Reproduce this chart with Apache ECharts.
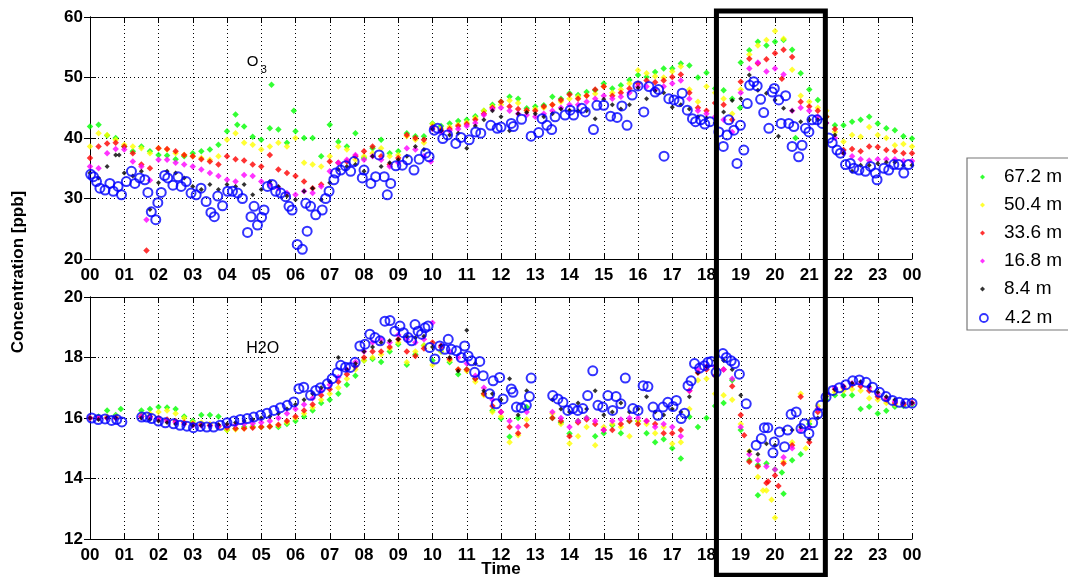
<!DOCTYPE html>
<html>
<head>
<meta charset="utf-8">
<script src="https://cdn.jsdelivr.net/npm/echarts@6.0.0/dist/echarts.min.js"></script>
<style>
  html, body { margin: 0; padding: 0; background: #fff; }
  #chart { width: 1068px; height: 577px; }
</style>
</head>
<body>
<div id="chart"></div>
<script>
// tick labels for the time axis (hours of the day)
const hourLabels = ['00','01','02','03','04','05','06','07','08','09','10','11','12',
  '13','14','15','16','17','18','19','20','21','22','23','00'];
const heights = ['67.2 m', '50.4 m', '33.6 m', '16.8 m', '8.4 m', '4.2 m'];
const colors = ['#00ff00', '#ffff00', '#ff0000', '#ff00ff', '#000000', '#0000ff'];

// samples every 15 min from 00:00 to 24:00
const STEP_H = 0.25;

// ---- O3 [ppb]
const o3_672 = [41.9,42.2,40.4,40.0, 38.6,37.8,38.6,37.8, 37.2,37.1,36.5,37.0, 37.5,37.8,38.1,38.9,
  41.1,43.9,41.9,40.2, 39.7,41.6,41.4,39.2, 41.1,40.0,40.0,37.0, 42.2,39.4,38.6,40.8,
  36.7,38.3,39.7,37.5, 37.8,40.8,40.3,40.3, 42.4,42.0,42.4,42.8, 43.0,43.6,44.5,45.5,
  46.0,46.8,46.5,44.9, 45.2,45.4,46.8,46.5, 47.4,47.1,47.6,47.9, 49.0,48.2,48.7,49.6,
  50.4,50.1,50.9,51.5, 51.5,52.3,52.0,50.0, 50.8,48.2,47.9,46.5, 52.5,54.5,55.9,55.3,
  55.9,56.2,54.6,50.7, 48.0,46.3,43.5,42.1, 42.1,42.7,43.0,43.5, 42.4,41.6,41.3,40.3, 39.9];
const o3_672_extra = [[4.3,42.2],[5.3,48.8],[5.95,44.5],[18.98,45.0],[20.6,40.0]];

const o3_504 = [38.6,40.8,40.5,39.7, 38.9,38.6,38.3,37.5, 38.3,38.1,37.5,37.2, 37.0,36.7,36.4,37.0,
  39.7,40.8,39.2,38.9, 38.1,38.6,39.2,38.6, 40.0,35.9,35.6,35.3, 37.0,38.6,38.1,36.4,
  37.0,37.5,38.3,37.0, 37.2,40.3,39.7,39.2, 42.3,41.6,41.8,42.2, 42.6,43.3,44.5,45.2,
  45.5,46.2,45.8,44.5, 44.8,45.0,45.5,46.0, 46.5,46.8,47.0,47.3, 48.5,47.5,48.0,49.0,
  51.2,50.7,50.2,50.0, 51.0,51.8,48.0,46.0, 48.5,47.5,46.5,44.0, 48.0,53.8,55.3,56.2,
  57.7,56.4,51.3,47.0, 46.0,45.0,44.5,41.0, 39.4,40.5,40.2,41.8, 40.5,40.0,38.8,39.0, 38.6];

const o3_336 = [36.7,38.6,39.1,39.2, 38.6,37.5,35.6,35.0, 38.3,38.2,37.8,37.2, 37.0,36.5,36.1,35.6,
  37.0,36.5,36.3,35.6, 35.3,37.2,34.8,34.2, 33.7,32.8,31.7,32.3, 36.1,35.9,36.1,37.0,
  37.8,38.6,37.0,35.6, 36.7,40.5,40.0,39.7, 41.8,41.3,41.5,42.0, 42.3,43.0,44.0,45.0,
  46.0,45.2,44.8,44.6, 44.5,45.2,45.5,46.3, 47.2,46.5,47.0,48.0, 48.5,47.0,47.5,48.2,
  49.0,49.5,49.2,49.5, 50.1,50.5,47.5,45.0, 44.5,45.8,45.5,43.0, 49.3,53.1,52.3,53.0,
  54.0,54.6,53.4,46.0, 45.2,44.5,43.5,41.5, 38.0,38.2,37.8,38.6, 38.5,38.0,37.8,37.5, 37.5];
const o3_336_extra = [[1.65,21.4],[20.2,49.8]];

const o3_168 = [35.3,35.0,37.5,38.2, 38.1,36.1,35.3,33.0, 36.4,36.4,35.9,35.6, 35.3,34.8,34.2,33.7,
  33.1,32.8,33.9,33.7, 32.8,32.3,31.7,30.9, 30.6,31.2,30.9,32.0, 34.5,35.9,36.4,37.2,
  36.4,37.0,36.4,35.3, 35.9,38.3,38.1,37.0, 41.5,41.0,41.2,41.5, 42.0,42.5,43.8,44.8,
  45.0,44.5,44.0,43.8, 43.5,44.0,44.5,45.0, 45.5,45.5,46.0,46.5, 47.0,46.5,46.8,47.5,
  48.5,48.5,48.0,48.5, 49.0,49.5,46.5,44.5, 44.0,43.5,43.0,41.0, 47.5,51.5,52.5,51.0,
  51.5,50.5,44.5,45.0, 44.5,43.5,42.5,40.0, 37.5,37.0,36.5,36.3, 36.5,36.5,36.5,36.2, 36.2];
const o3_168_extra = [[1.65,26.5],[9.95,36.1]];

const o3_84 = [34.2,33.4,35.3,37.2, 34.2,33.7,34.5,28.2, 32.6,34.5,34.2,33.4, 32.0,31.5,32.3,31.5,
  32.3,32.0,32.3,30.6, 31.5,32.8,32.0,30.4, 29.8,31.2,31.7,29.8, 32.6,34.8,35.3,35.6,
  34.5,37.0,35.3,35.9, 36.4,37.0,38.6,38.1, 41.5,41.2,40.5,40.8, 38.3,42.0,43.0,44.5,
  43.5,41.2,44.0,44.2, 44.0,43.5,44.0,44.8, 44.6,44.5,44.5,43.2, 46.4,45.5,44.8,45.5,
  48.3,46.5,47.8,47.5, 45.1,45.5,44.8,43.5, 43.3,42.5,44.3,46.2, 46.5,50.4,47.9,47.4,
  46.3,44.9,44.5,42.7, 43.0,43.0,42.5,40.5, 37.5,34.5,35.5,35.5, 35.8,36.0,36.0,35.5, 35.5];
const o3_84_extra = [[0.85,37.2],[20.1,40.3]];

// 4.2 m inlet: [hour, ppb]
const o3_42 = [[0.02,34.0],[0.1,33.6],[0.19,32.8],[0.29,31.7],[0.44,31.4],[0.58,32.5],[0.68,31.2],[0.82,32.0],
  [0.92,30.6],[1.06,32.8],[1.21,34.5],[1.31,32.5],[1.45,33.4],[1.6,33.1],[1.69,31.0],[1.79,27.8],[1.92,26.5],
  [1.98,29.3],[2.08,31.0],[2.18,33.8],[2.27,33.4],[2.42,32.2],[2.57,33.6],[2.66,32.0],[2.81,32.8],[2.95,30.9],
  [3.1,30.6],[3.24,31.7],[3.39,29.5],[3.53,27.7],[3.63,27.0],[3.73,30.4],[3.87,28.8],[4.02,31.2],[4.16,31.2],
  [4.31,30.9],[4.45,30.0],[4.6,24.4],[4.7,27.0],[4.79,28.7],[4.89,25.6],[5.01,26.9],[5.08,28.1],[5.18,32.0],
  [5.32,32.3],[5.42,31.2],[5.57,30.9],[5.71,30.3],[5.81,28.7],[5.9,28.1],
  [6.05,22.4],[6.2,21.6],[6.34,24.6],[6.3,29.2],[6.44,28.7],[6.59,27.3],[6.78,28.1],[6.88,30.0],[6.98,31.2],
  [7.12,33.1],[7.17,34.2],[7.32,34.7],[7.46,35.4],[7.61,34.5],[7.71,36.1],[7.95,33.4],[8.0,34.7],[8.2,32.5],
  [8.34,33.6],[8.44,37.2],[8.59,33.6],[8.68,30.6],[8.78,32.5],[8.93,35.4],[9.12,35.5],[9.27,36.4],[9.46,34.7],
  [9.61,36.5],[9.8,37.5],[9.9,36.9],
  [10.05,41.3],[10.15,41.6],[10.3,39.9],[10.44,40.5],[10.68,39.1],[10.83,40.1],[11.07,39.7],[11.26,41.0],
  [11.41,40.8],[11.7,42.1],[11.89,41.6],
  [12.0,41.8],[12.3,42.4],[12.36,41.9],[12.6,43.1],[12.88,40.3],[13.1,40.9],[13.2,43.2],[13.34,42.1],[13.48,41.4],
  [13.58,43.5],[13.87,43.8],[14.02,44.6],[14.12,43.8],[14.36,44.9],[14.46,44.3],[14.7,41.4],[14.8,45.4],[15.0,45.4],
  [15.2,43.6],[15.39,43.4],[15.53,45.3],[15.68,42.1],[15.83,47.1],[16.0,48.6],[16.17,44.3],[16.32,48.5],[16.5,47.6],
  [16.6,48.0],[16.76,37.0],[16.9,46.5],[17.05,46.3],[17.2,46.0],[17.29,47.4],[17.44,44.6],[17.59,43.2],[17.68,42.7],
  [17.83,43.0],[17.95,42.3],[18.1,42.7],[18.36,41.0],[18.49,38.6],[18.6,40.5],[18.65,43.0],[18.8,41.3],[18.89,35.8],
  [18.99,42.1],[19.09,38.0],[19.19,45.7],[19.26,48.7],[19.38,49.3],[19.48,48.6],[19.58,46.4],[19.67,44.2],[19.82,41.6],
  [19.92,47.6],[19.98,48.2],[20.11,46.3],[20.18,42.4],[20.31,47.0],[20.4,42.4],[20.5,38.6],[20.55,41.9],[20.69,36.9],
  [20.79,38.8],[20.89,41.6],[20.99,41.0],[21.08,43.0],[21.23,43.0],[21.38,42.4],[21.57,40.0],[21.67,39.2],[21.81,38.0],
  [21.91,37.5],[22.06,35.6],[22.2,35.8],[22.3,35.0],[22.45,34.7],[22.64,34.5],[22.79,35.3],[22.93,34.2],[22.98,33.1],
  [23.18,35.0],[23.32,34.7],[23.47,35.6],[23.61,35.6],[23.76,34.2],[23.9,35.6]];

// ---- H2O
const h2o_672 = [16.0,16.05,16.25,16.1, null,null,16.25,16.3, 16.36,16.35,16.3,16.05, 15.9,16.1,16.1,16.05,
  15.6,15.65,15.7,15.72, 15.7,15.72,15.7,15.8, 15.9,16.05,16.25,16.5, 16.6,16.8,17.1,17.4,
  17.9,17.95,17.85,18.2, 18.44,17.76,18.1,18.4, 17.9,18.2,17.84,17.45, 17.6,17.3,16.8,16.25,
  15.98,15.38,16.0,16.36, null,null,16.0,15.85, 15.49,15.9,16.0,15.4, 15.5,15.76,15.5,15.9,
  15.9,15.5,15.2,15.3, 15.0,14.66,16.04,15.7, 16.0,16.4,16.5,17.25, 15.6,14.6,14.45,14.5,
  14.3,13.5,14.6,14.8, 15.8,16.3,16.6,16.75, 16.75,16.75,16.3,16.37, 16.15,16.24,16.37,16.4, 16.45];
const h2o_672_extra = [[0.9,16.3],[19.5,13.45],[20.2,14.2]];

const h2o_504 = [16.0,16.0,16.05,16.05, null,null,16.1,16.15, 16.2,16.25,16.15,16.0, 15.85,15.85,15.8,15.75,
  15.6,15.62,15.65,15.7, 15.7,15.72,15.75,15.85, 16.0,16.15,16.35,16.6, 16.8,17.0,17.3,17.6,
  17.9,18.0,18.1,18.3, 18.5,17.84,18.2,18.4, 17.75,18.2,17.9,17.6, 17.55,17.2,16.75,16.2,
  16.05,15.2,15.43,15.95, null,null,16.15,15.8, 15.16,15.4,15.7,15.1, 15.7,15.8,15.7,15.4,
  15.9,15.8,15.5,15.7, 15.15,15.2,16.3,17.25, 17.3,16.8,16.75,16.6, 15.8,14.9,14.05,13.6,
  12.7,14.55,15.2,16.8, 15.9,16.4,16.75,16.85, 16.9,16.95,16.9,16.65, 16.6,16.5,16.45,16.45, 16.5];
const h2o_504_extra = [[19.9,13.3],[20.9,15.0],[19.65,13.6]];

const h2o_336 = [16.0,16.0,16.0,16.0, null,null,16.05,16.05, 16.0,15.95,15.9,15.85, 15.8,15.78,15.75,15.72,
  15.68,15.65,15.65,15.68, 15.7,15.72,15.78,15.9, 16.05,16.25,16.45,16.75, 16.95,17.2,17.45,17.7,
  18.0,18.2,18.2,18.35, 18.6,18.2,18.05,18.3, 18.5,18.35,17.95,17.6, 17.6,17.3,16.8,16.4,
  16.2,15.7,15.5,15.75, null,null,16.0,15.9, 15.4,15.85,15.95,15.8, 15.6,15.6,15.8,15.9,
  15.8,15.9,15.8,15.5, 15.5,15.6,16.9,17.5, 17.6,17.4,17.6,17.05, 16.1,14.55,14.4,13.85,
  14.1,14.5,15.1,16.7, 15.2,16.2,16.8,16.95, 17.0,17.1,17.05,16.9, 16.7,16.6,16.5,16.45, 16.5];
const h2o_336_extra = [[19.1,15.43],[20.1,13.75],[19.8,13.9]];

const h2o_168 = [16.0,16.0,16.0,16.0, null,null,16.05,16.0, 15.95,15.9,15.85,15.8, 15.75,15.75,15.75,15.75,
  15.75,15.78,15.8,15.82, 15.85,15.9,16.0,16.15, 16.3,16.45,16.65,16.9, 17.1,17.35,17.6,17.85,
  18.2,18.5,18.6,18.5, 18.75,18.6,18.5,18.6, 19.15,18.4,18.2,18.0, 17.8,17.4,17.0,16.6,
  16.2,15.9,15.7,16.2, null,null,16.2,16.0, 15.7,15.9,16.0,15.9, 15.6,15.9,15.95,16.0,
  16.0,15.9,15.7,15.8, 15.7,15.4,16.9,17.6, 17.7,17.7,17.6,17.3, 15.7,14.8,14.6,14.4,
  14.3,14.7,15.0,15.6, 15.7,16.3,16.8,17.0, 17.05,17.15,17.15,17.0, 16.8,16.65,16.55,16.5, 16.5];

const h2o_84 = [16.0,15.95,16.0,16.0, null,null,16.0,15.95, 15.9,15.85,15.8,15.8, 15.75,15.75,15.75,15.78,
  15.8,15.85,15.9,15.95, 16.0,16.05,16.15,16.3, 16.45,16.6,16.8,17.0, 17.2,18.0,17.6,17.8,
  18.2,18.35,18.5,18.55, 18.6,18.7,18.65,18.7, 18.35,18.4,18.0,17.55, 18.9,17.8,16.9,16.8,
  16.6,17.3,16.1,16.9, null,null,16.6,16.3, 16.2,16.5,16.3,16.9, 16.1,16.2,16.5,16.2,
  16.3,16.7,16.2,16.1, 16.3,16.2,16.7,17.5, 17.7,17.9,17.9,17.6, 16.75,14.9,14.8,15.15,
  15.1,15.6,15.6,15.7, 15.3,16.0,16.7,16.95, 17.05,17.15,17.2,17.05, 16.85,16.7,16.6,16.5, 16.5];

const h2o_42 = [[0.05,16.0],[0.24,15.95],[0.44,15.97],[0.63,15.92],[0.78,15.95],[0.93,15.87],
  [1.51,16.03],[1.66,16.03],[1.8,15.98],[2.0,15.9],[2.2,15.84],[2.44,15.81],[2.63,15.76],[2.83,15.73],
  [3.02,15.68],[3.22,15.72],[3.41,15.7],[3.61,15.7],[3.8,15.76],[4.0,15.84],[4.2,15.9],[4.39,15.95],
  [4.59,15.98],[4.78,16.03],[4.98,16.09],[5.17,16.16],[5.37,16.25],[5.56,16.34],[5.76,16.42],[5.95,16.53],
  [6.1,16.97],[6.24,17.02],[6.44,16.75],[6.59,16.91],[6.73,17.0],[6.93,17.13],[7.07,17.3],[7.22,17.5],
  [7.32,17.74],[7.46,17.68],[7.6,17.67],[7.74,17.84],[7.88,18.38],[8.03,18.44],[8.17,18.77],[8.32,18.66],
  [8.47,18.55],[8.61,19.2],[8.76,19.22],[8.9,18.87],[9.05,19.04],[9.15,18.82],[9.29,18.66],[9.39,18.55],
  [9.49,19.09],[9.58,18.87],[9.68,18.77],[9.78,18.98],[9.87,19.04],[9.92,18.33],[10.07,17.95],[10.21,18.38],
  [10.36,18.27],[10.46,18.6],[10.55,18.27],[10.7,18.22],[10.84,18.0],[10.94,18.38],[11.04,18.05],[11.14,17.89],
  [11.23,17.51],[11.38,17.87],[11.48,17.4],[11.67,16.8],[11.77,17.23],[11.86,16.47],[11.96,17.34],[12.06,16.63],
  [12.3,16.96],[12.35,16.85],[12.45,16.36],[12.59,16.34],[12.74,16.42],[12.83,16.71],[12.88,17.32],
  [13.51,16.74],[13.66,16.63],[13.81,16.52],[13.95,16.25],[14.1,16.31],[14.24,16.25],[14.39,16.31],[14.53,16.74],
  [14.68,17.56],[14.83,16.42],[14.97,16.36],[15.12,16.74],[15.26,16.25],[15.36,16.71],[15.5,16.47],[15.63,17.32],
  [15.85,16.31],[16.0,16.25],[16.15,17.07],[16.29,17.04],[16.44,16.36],[16.58,16.09],[16.73,16.36],[16.87,16.52],
  [17.02,16.38],[17.12,16.58],[17.26,15.98],[17.36,16.16],[17.46,17.07],[17.55,17.23],[17.65,17.8],[17.8,17.65],
  [17.94,17.73],[18.04,17.84],[18.14,17.87],[18.28,17.51],[18.48,18.13],[18.58,18.0],[18.72,17.89],[18.82,17.8],
  [18.96,17.45],[19.16,16.47],[19.45,15.1],[19.6,15.32],[19.69,15.68],[19.79,15.68],[19.94,14.85],[19.98,15.21],
  [20.13,15.54],[20.28,15.05],[20.37,15.6],[20.47,16.12],[20.62,16.2],[20.76,15.65],[20.86,15.81],[20.99,15.49],
  [21.1,15.84],[21.25,16.14],[21.34,16.42],[21.49,16.69],[21.69,16.91],[21.88,17.0],[22.07,17.1],[22.27,17.23],
  [22.46,17.26],[22.66,17.18],[22.85,17.02],[23.05,16.85],[23.24,16.71],[23.43,16.58],[23.63,16.52],[23.82,16.49],
  [24.0,16.49]];

// highlighted period (hours)
const boxStart = 18.29, boxEnd = 21.47;

function toPairs(vals, extra) {
  const out = [];
  vals.forEach((v, i) => { if (v != null) out.push([i * STEP_H, v]); });
  return out.concat(extra || []);
}

const FONT = 'Liberation Sans, Arial, Helvetica, sans-serif';
const panels = [
  { sets: [toPairs(o3_672, o3_672_extra), toPairs(o3_504), toPairs(o3_336, o3_336_extra),
           toPairs(o3_168, o3_168_extra), toPairs(o3_84, o3_84_extra), o3_42] },
  { sets: [toPairs(h2o_672, h2o_672_extra), toPairs(h2o_504, h2o_504_extra), toPairs(h2o_336, h2o_336_extra),
           toPairs(h2o_168), toPairs(h2o_84), h2o_42] }
];

function dotSeries(name, color, size, data, xi, yi) {
  return {
    name, type: 'scatter', xAxisIndex: xi, yAxisIndex: yi, data,
    symbol: 'diamond', symbolSize: size, itemStyle: { color }, silent: true
  };
}
function ringSeries(name, data, xi, yi) {
  return {
    name, type: 'scatter', xAxisIndex: xi, yAxisIndex: yi, data,
    symbol: 'circle', symbolSize: 9,
    itemStyle: { color: 'rgba(0,0,0,0)', borderColor: '#0000ff', borderWidth: 2 }, silent: true
  };
}

const series = [];
panels.forEach((p, k) => {
  const xi = k * 2, yi = k * 2;
  p.sets.forEach((d, i) => {
    if (i === 5) series.push(ringSeries(heights[i], d, xi, yi));
    else series.push(dotSeries(heights[i], colors[i], i === 4 ? 5 : 6.5, d, xi, yi));
  });
});

const lineBlack = { lineStyle: { color: '#000', width: 1 } };
function timeAxis(grid, showLabels) {
  return [
    {
      type: 'value', gridIndex: grid, min: 0, max: 24, interval: 1, position: 'bottom',
      axisLine: lineBlack, axisTick: { inside: true, length: 6, lineStyle: { color: '#000' } },
      axisLabel: {
        show: showLabels, margin: 8, color: '#000', fontFamily: FONT, fontWeight: 'bold', fontSize: 17,
        formatter: v => hourLabels[Math.round(v)]
      },
      splitLine: { show: true, lineStyle: { color: '#000', type: [1, 3], width: 1 } }
    },
    {
      type: 'value', gridIndex: grid, min: 0, max: 24, interval: 1, position: 'top',
      axisLine: lineBlack, axisTick: { inside: true, length: 6, lineStyle: { color: '#000' } },
      axisLabel: { show: false }, splitLine: { show: false }
    }
  ];
}
function valueAxes(grid, min, max, interval) {
  return [
    {
      type: 'value', gridIndex: grid, min, max, interval, position: 'left',
      axisLine: { show: true, lineStyle: { color: '#000', width: 1 } },
      axisTick: { show: true, inside: true, length: 6, lineStyle: { color: '#000' } },
      axisLabel: { margin: 7, color: '#000', fontFamily: FONT, fontWeight: 'bold', fontSize: 17 },
      splitLine: { show: true, lineStyle: { color: '#000', type: [1, 3], width: 1 } }
    },
    {
      type: 'value', gridIndex: grid, min, max, interval, position: 'right',
      axisLine: { show: true, lineStyle: { color: '#000', width: 1 } },
      axisTick: { show: true, inside: true, length: 6, lineStyle: { color: '#000' } },
      axisLabel: { show: false }, splitLine: { show: false }
    }
  ];
}

const xAxes = timeAxis(0, true).concat(timeAxis(1, true));
xAxes[2].name = 'Time';
xAxes[2].nameLocation = 'middle';
xAxes[2].nameGap = 22;
xAxes[2].nameMoveOverlap = false;
xAxes[2].nameTextStyle = { color: '#000', fontFamily: FONT, fontWeight: 'bold', fontSize: 17 };

const option = {
  animation: false,
  backgroundColor: '#fff',
  grid: [
    { left: 90, top: 17, width: 822, height: 242, outerBoundsMode: 'none' },
    { left: 90, top: 297, width: 822, height: 242, outerBoundsMode: 'none' }
  ],
  xAxis: xAxes,
  yAxis: valueAxes(0, 20, 60, 10).concat(valueAxes(1, 12, 20, 2)),
  legend: [
    {
      data: heights.slice(0, 5).map((n, i) => ({ name: n, icon: 'diamond', itemStyle: { color: colors[i] } })),
      orient: 'vertical', left: 980, top: 167, itemWidth: 5, itemHeight: 5, itemGap: 8,
      padding: 0, selectedMode: false,
      textStyle: { color: '#000', fontFamily: FONT, fontSize: 19, lineHeight: 20, padding: [0, 0, 0, 14] }
    },
    {
      data: [{ name: heights[5], icon: 'circle',
               itemStyle: { color: 'rgba(0,0,0,0)', borderColor: '#0000ff', borderWidth: 1.8 } }],
      orient: 'vertical', left: 979, top: 308, itemWidth: 8, itemHeight: 8,
      padding: 0, selectedMode: false,
      textStyle: { color: '#000', fontFamily: FONT, fontSize: 19, lineHeight: 20, padding: [0, 0, 0, 12] }
    }
  ],
  series
};

const chart = echarts.init(document.getElementById('chart'));
chart.setOption(option);

const px = (axis, idx, v) => chart.convertToPixel({ [axis]: idx }, v);
const bx0 = px('xAxisIndex', 0, boxStart), bx1 = px('xAxisIndex', 0, boxEnd);
const by0 = px('yAxisIndex', 0, 61.0), by1 = px('yAxisIndex', 2, 10.8);
const o3x = px('xAxisIndex', 0, 4.58), o3y = px('yAxisIndex', 0, 52.6);
const h2x = px('xAxisIndex', 2, 4.56), h2y = px('yAxisIndex', 2, 18.3);

chart.setOption({
  graphic: [
    { type: 'rect', z: 0, shape: { x: 967, y: 158, width: 110, height: 172 },
      style: { fill: '#fff', stroke: '#777', lineWidth: 1.2 } },
    { type: 'rect', z: 100, shape: { x: bx0, y: by0, width: bx1 - bx0, height: by1 - by0 },
      style: { fill: 'none', stroke: '#000', lineWidth: 5 } },
    { type: 'text', z: 100, x: o3x, y: o3y,
      style: { text: 'O', font: '15px ' + FONT, fill: '#000', textVerticalAlign: 'middle' } },
    { type: 'text', z: 100, x: o3x + 14, y: o3y + 8,
      style: { text: '3', font: '11px ' + FONT, fill: '#000', textVerticalAlign: 'middle' } },
    { type: 'text', z: 100, x: h2x, y: h2y,
      style: { text: 'H2O', font: '16px ' + FONT, fill: '#000', textVerticalAlign: 'middle' } },
    { type: 'text', z: 100, x: 18, y: 272, rotation: Math.PI / 2,
      style: { text: 'Concentration [ppb]', font: 'bold 17px ' + FONT, fill: '#000',
               textAlign: 'center', textVerticalAlign: 'middle' } }
  ]
});
</script>
</body>
</html>
